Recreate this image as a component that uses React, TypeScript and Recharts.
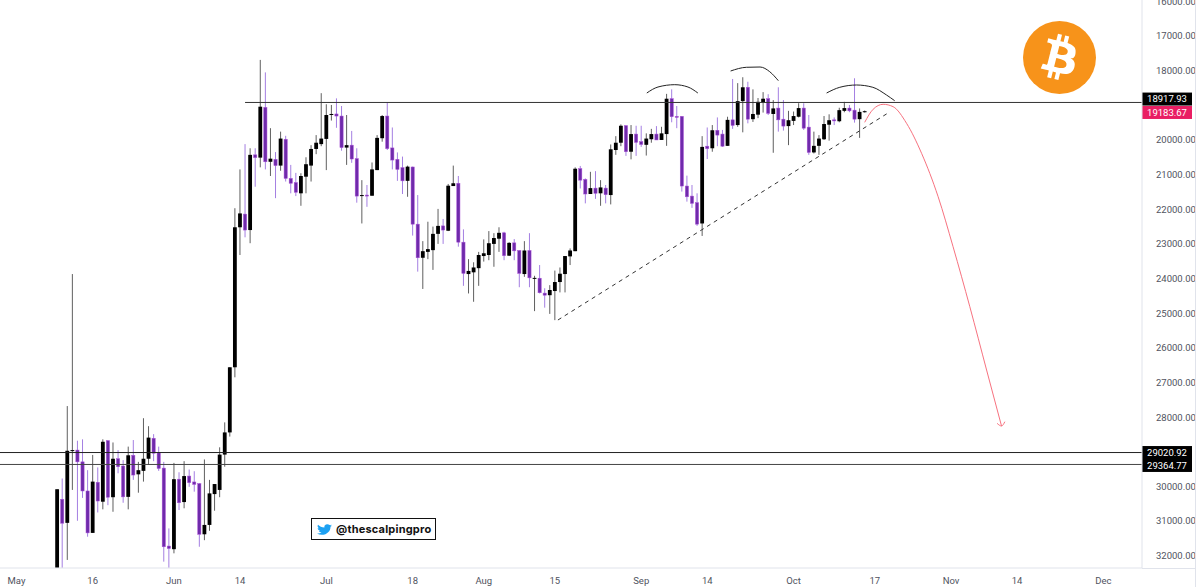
import React from "react";
import { ComposedChart, Bar, Line, XAxis, YAxis, ReferenceLine } from "recharts";

// price scale is flipped on this chart, so "up" on screen means a lower number
const firstDay = 8; // days since May 1

const wickTop = [
  30080, 29770, 27680, 23870, 28680, 28640, 29530, 29090, 29450, 28640, 28660, 28730, 28950, 29240, 28850, 28660,
  29290, 28030, 28260, 28490, 28850, 29290, 31210, 29320, 29590, 29270, 29510, 29560, 29900, 29220, 29810, 29930,
  28870, 28150, 26560, 21970, 20850, 20120, 20240, 20240, 17690, 18050, 19660, 20350, 19760, 19880, 20720, 20950,
  20960, 20500, 20150, 19860, 18650, 18970, 18990, 18800, 19020, 19280, 19740, 20240, 21160, 21300, 20650, 19860,
  19280, 18920, 19640, 20360, 20480, 20740, 20770, 21590, 22920, 22360, 22500, 21990, 22280, 21270, 20740, 21040,
  22580, 23440, 23530, 23230, 22870, 22630, 22690, 22520, 22650, 22950, 22860, 23180, 22920, 22690, 23920, 23610,
  24280, 24190, 23770, 23680, 23350, 23130, 20790, 20750, 21110, 20920, 20900, 21160, 21300, 20130, 19890, 19550,
  19570, 19570, 19590, 19590, 19810, 19680, 19600, 19620, 18670, 18540, 19020, 19310, 21030, 21300, 21540, 19890,
  19640, 19570, 19350, 19710, 19330, 18240, 18360, 18190, 18320, 18540, 18790, 18620, 18680, 18850, 18480, 18850,
  19160, 19180, 18940, 18940, 19280, 19760, 19860, 19310, 19260, 19350, 19070, 18900, 18990, 18220, 19090, 19150,
];
const opens = [
  32350, 30370, 31050, 28980, 28950, 29290, 30130, 31340, 29880, 30440, 28680, 30310, 29200, 29410, 30300, 29100,
  29650, 29550, 29200, 28610, 29030, 29470, 31720, 31810, 29790, 30450, 29700, 29870, 29920, 31380, 31110, 30220,
  30100, 29080, 28440, 26560, 22520, 22140, 22600, 20430, 20510, 19060, 20630, 20560, 20740, 19980, 21110, 21230,
  21540, 21060, 20740, 20260, 20120, 19970, 19280, 19250, 19310, 20220, 20150, 20540, 21620, 21590, 21610, 20870,
  19950, 19310, 20230, 20560, 20800, 21180, 20780, 22430, 23400, 23230, 23180, 22710, 22480, 22620, 21330, 21250,
  22950, 23870, 23820, 23700, 23350, 23320, 23000, 22850, 22680, 23340, 22970, 23190, 23870, 23190, 24000, 23990,
  24420, 24480, 24360, 24100, 23870, 23360, 23210, 20830, 21140, 21560, 21390, 21540, 21390, 21590, 20290, 20080,
  19590, 20340, 19830, 20050, 20140, 19980, 19830, 20000, 19830, 18810, 19320, 19320, 21330, 21620, 21810, 22410,
  20180, 20240, 19720, 19830, 20170, 19420, 19570, 18880, 18480, 19400, 19270, 18910, 18810, 19250, 19080, 19400,
  19600, 19450, 19330, 19080, 19630, 20360, 20170, 19980, 19560, 19420, 19460, 19160, 19080, 19140, 19400, 19200,
];
const closes = [
  30080, 31060, 28970, 28950, 29290, 30130, 31340, 29860, 30420, 28710, 30310, 29200, 29430, 30300, 29100, 29670,
  29530, 29200, 28590, 29040, 29480, 31740, 31790, 29790, 30470, 29700, 29890, 29940, 31380, 31110, 30200, 29930,
  29080, 28440, 26560, 22520, 22120, 22600, 20430, 20510, 19040, 20630, 20540, 20740, 19960, 21110, 21250, 21510,
  21040, 20700, 20260, 20080, 19960, 19280, 19250, 19310, 20220, 20150, 20550, 21620, 21590, 21620, 20850, 19940,
  19310, 20250, 20580, 20850, 21180, 20770, 22430, 23400, 23210, 23150, 22710, 22480, 22600, 21320, 21250, 22950,
  23850, 23780, 23680, 23320, 23270, 22980, 22830, 22680, 23340, 22970, 23200, 23850, 23190, 23980, 23980, 24410,
  24480, 24330, 24100, 23860, 23350, 23190, 20830, 21160, 21560, 21390, 21540, 21370, 21580, 20270, 20080, 19590,
  20340, 19830, 20070, 20130, 19960, 19830, 20000, 19810, 18810, 19330, 19340, 21330, 21640, 21830, 22430, 20200,
  20250, 19720, 19860, 20180, 19420, 19580, 18880, 18480, 19400, 19250, 18900, 18810, 19230, 19090, 19420, 19600,
  19430, 19310, 19080, 19660, 20360, 20170, 19960, 19540, 19430, 19450, 19140, 19080, 19160, 19400, 19190, 19170,
];
const wickBottom = [
  32350, 32350, 32120, 30100, 30990, 30330, 31450, 31340, 30750, 30660, 30540, 30730, 29620, 30470, 30660, 29810,
  30180, 29860, 29380, 29270, 29550, 32170, 32350, 31930, 30680, 30630, 30010, 30150, 31740, 31550, 31280, 30700,
  30310, 29430, 28560, 26850, 23320, 22810, 22980, 21350, 20790, 20850, 21040, 21680, 20890, 21200, 21540, 21620,
  21900, 21540, 21200, 20410, 20180, 20870, 19440, 19650, 20310, 20720, 20660, 21810, 22410, 21930, 21610, 20870,
  20050, 20290, 20850, 21180, 21560, 21640, 22760, 23800, 24300, 23440, 23750, 23000, 23000, 22630, 21330, 23080,
  24210, 24430, 24670, 24210, 23510, 23470, 23660, 23230, 23470, 23350, 23470, 24250, 23950, 24250, 24940, 24430,
  24840, 25020, 25200, 24400, 24400, 23610, 23210, 21400, 21830, 21560, 21700, 21900, 21830, 21860, 20430, 20180,
  20460, 20560, 20460, 20200, 20450, 20080, 20000, 20000, 20170, 19490, 19660, 21490, 21780, 21960, 22480, 22770,
  20550, 20340, 20180, 20200, 20170, 19680, 19620, 19780, 19520, 19480, 19370, 19210, 19280, 20370, 19760, 19730,
  20150, 19570, 19350, 19710, 20430, 20390, 20430, 20000, 20020, 19570, 19490, 19200, 19200, 19500, 19940, 19210,
];

const candles = wickTop.map((top, i) => ({
  day: firstDay + i,
  top,
  open: opens[i],
  close: closes[i],
  bottom: wickBottom[i],
}));

// 19000 and 29000 sit behind the price tags in the reference
const priceTicks = [
  16000, 17000, 18000, 20000, 21000, 22000, 23000, 24000, 25000, 26000, 27000, 28000, 30000, 31000, 32000,
];
const dayTicks = [0, 15, 31, 44, 61, 78, 92, 106, 123, 136, 153, 169, 184, 197, 214];
const dayLabels = ["May", "16", "Jun", "14", "Jul", "18", "Aug", "15", "Sep", "14", "Oct", "17", "Nov", "14", "Dec"];

const resistance = 18917.93;
const lastPrice = 19183.67;
const supportA = 29020.92;
const supportB = 29364.77;

const trendLine = [
  { day: 106.6, price: 25196 },
  { day: 171.6, price: 19222 },
];
const arcOne = [
  { day: 124.1, price: 18645 },
  { day: 126.3, price: 18472 },
  { day: 129.6, price: 18405 },
  { day: 132.2, price: 18472 },
  { day: 134.15, price: 18645 },
];
const arcTwo = [
  { day: 140.6, price: 18010 },
  { day: 143.7, price: 17903 },
  { day: 146.4, price: 17895 },
  { day: 148.3, price: 18030 },
  { day: 150, price: 18290 },
];
const arcThree = [
  { day: 159.5, price: 18645 },
  { day: 162.1, price: 18480 },
  { day: 165.4, price: 18414 },
  { day: 168.6, price: 18480 },
  { day: 171.3, price: 18703 },
  { day: 172.9, price: 18867 },
];
const forecast = [
  { day: 167.0, price: 19491 },
  { day: 168.66, price: 19115 },
  { day: 170.63, price: 18971 },
  { day: 172.6, price: 19040 },
  { day: 175.24, price: 19519 },
  { day: 178.2, price: 20385 },
  { day: 181.46, price: 21638 },
  { day: 184.4, price: 23081 },
  { day: 187.7, price: 24812 },
  { day: 191.0, price: 26639 },
  { day: 193.94, price: 28255 },
];
const arrowHead = [
  { day: 193.07, price: 28178 },
  { day: 193.94, price: 28255 },
  { day: 194.6, price: 28131 },
];

const AXIS_FONT = "Roboto, sans-serif";

function Candle(props: any) {
  const { x, y, width, height, payload } = props;
  const h = Math.abs(height);
  if (!h) return null;
  const top = Math.min(y, y + height);
  const cx = x + width / 2;
  const perUnit = h / (payload.bottom - payload.top);
  const toY = (v: number) => top + (v - payload.top) * perUnit;
  const isBlack = payload.close < payload.open;
  const bodyTop = toY(Math.min(payload.open, payload.close));
  const bodyH = Math.max(Math.abs(payload.close - payload.open) * perUnit, 1);
  return (
    <g>
      <line x1={cx} x2={cx} y1={top} y2={top + h} stroke={isBlack ? "#5f5f5f" : "#a47fe2"} strokeWidth={1} />
      <rect
        x={cx - (isBlack ? 1.9 : 1.6)}
        y={bodyTop}
        width={isBlack ? 3.8 : 3.2}
        height={bodyH}
        fill={isBlack ? "#000000" : "#6f2bab"}
        stroke={isBlack ? "none" : "#a94fd6"}
        strokeWidth={0.5}
      />
    </g>
  );
}

// tags get nudged off their line so neighbours don't cover each other
function PriceTag(props: any) {
  const { viewBox, text, fill, nudge = 0 } = props;
  const px = viewBox.x + viewBox.width;
  const cy = viewBox.y + nudge;
  return (
    <g>
      <rect x={px} y={cy - 6.5} width={50} height={13} fill={fill} />
      <text x={px + 25} y={cy + 3.4} textAnchor="middle" fontSize={9.5} fontFamily={AXIS_FONT} fill="#ffffff">
        {text}
      </text>
    </g>
  );
}

function overlayLine(data: any[], key: string, color: string, dash?: string) {
  return (
    <Line
      key={key}
      data={data}
      dataKey="price"
      type="monotone"
      stroke={color}
      strokeWidth={1}
      strokeDasharray={dash}
      dot={false}
      activeDot={false}
      isAnimationActive={false}
    />
  );
}

export default function App() {
  return (
    <div style={{ position: "absolute", left: 0, top: 0, width: 1200, height: 587, background: "#fff", overflow: "hidden" }}>
      <ComposedChart
        width={1195}
        height={587}
        data={candles}
        margin={{ top: 0, right: 0, bottom: 0, left: 0 }}
      >
        <XAxis
          dataKey="day"
          type="number"
          domain={[-3.25, 221.6]}
          allowDataOverflow
          ticks={dayTicks}
          interval={0}
          tickFormatter={(d: number) => dayLabels[dayTicks.indexOf(d)]}
          height={19}
          tickLine={false}
          tickMargin={3}
          axisLine={{ stroke: "#e0e3eb" }}
          tick={{ fontSize: 9.5, fontFamily: AXIS_FONT, fill: "#50535e" }}
        />
        <YAxis
          orientation="right"
          reversed
          type="number"
          domain={[15961, 32353]}
          allowDataOverflow
          ticks={priceTicks}
          interval={0}
          width={53}
          tickLine={false}
          tickMargin={8}
          tickFormatter={(v: number) => v.toFixed(2)}
          axisLine={{ stroke: "#e0e3eb" }}
          tick={{ fontSize: 9.5, fontFamily: AXIS_FONT, fill: "#50535e" }}
        />
        <Bar
          dataKey={(d: any) => [d.top, d.bottom]}
          barSize={5}
          shape={<Candle />}
          isAnimationActive={false}
        />
        <ReferenceLine
          segment={[
            { x: 45, y: resistance },
            { x: 221.6, y: resistance },
          ]}
          stroke="#333"
          strokeWidth={1}
        />
        <ReferenceLine y={supportA} stroke="#222" strokeWidth={1} label={<PriceTag text={supportA.toFixed(2)} fill="#000" />} />
        <ReferenceLine y={supportB} stroke="#444" strokeWidth={1} label={<PriceTag text={supportB.toFixed(2)} fill="#000" nudge={1} />} />
        <ReferenceLine y={lastPrice} stroke="none" label={<PriceTag text={lastPrice.toFixed(2)} fill="#e91e63" nudge={0.8} />} />
        <ReferenceLine y={resistance} stroke="none" label={<PriceTag text={resistance.toFixed(2)} fill="#000" nudge={-3.4} />} />
        {overlayLine(trendLine, "trend", "#333", "4 4")}
        {overlayLine(arcOne, "arc1", "#222")}
        {overlayLine(arcTwo, "arc2", "#222")}
        {overlayLine(arcThree, "arc3", "#222")}
        {overlayLine(forecast, "forecast", "#f7727f")}
        {overlayLine(arrowHead, "arrow", "#f7727f")}
      </ComposedChart>

      {/* right edge of the price panel and bottom rule under it */}
      <div style={{ position: "absolute", left: 1195, top: 0, width: 1, height: 587, background: "#e0e3eb" }} />
      <div style={{ position: "absolute", left: 1142, top: 568, width: 53, height: 1, background: "#e0e3eb" }} />

      {/* bitcoin logo */}
      <svg style={{ position: "absolute", left: 1022.5, top: 21 }} width={73} height={73} viewBox="0 0 64 64">
        <circle cx={32} cy={32} r={32} fill="#f7931a" />
        <path
          fill="#fff"
          d="M46.103,27.444c0.637-4.258-2.605-6.547-7.038-8.074l1.438-5.768l-3.511-0.875l-1.4,5.616c-0.923-0.23-1.871-0.447-2.813-0.662l1.41-5.653l-3.509-0.875l-1.439,5.766c-0.764-0.174-1.514-0.346-2.242-0.527l0.004-0.018l-4.842-1.209l-0.934,3.75c0,0,2.605,0.597,2.55,0.634c1.422,0.355,1.679,1.296,1.636,2.042l-1.638,6.571c0.098,0.025,0.225,0.061,0.365,0.117c-0.117-0.029-0.242-0.061-0.371-0.092l-2.296,9.205c-0.174,0.432-0.615,1.08-1.609,0.834c0.035,0.051-2.552-0.637-2.552-0.637l-1.743,4.019l4.569,1.139c0.85,0.213,1.683,0.436,2.503,0.646l-1.453,5.834l3.507,0.875l1.439-5.772c0.958,0.26,1.888,0.5,2.798,0.726l-1.434,5.745l3.511,0.875l1.453-5.823c5.987,1.133,10.489,0.676,12.384-4.739c1.527-4.36-0.076-6.875-3.226-8.515C44.17,33.208,45.904,31.696,46.103,27.444z M38.08,38.693c-1.085,4.36-8.426,2.003-10.806,1.412l1.928-7.729C31.582,32.97,39.215,34.145,38.08,38.693z M39.166,27.381c-0.99,3.966-7.1,1.951-9.082,1.457l1.748-7.01C33.814,22.322,40.198,23.244,39.166,27.381z"
        />
      </svg>

      {/* twitter handle */}
      <div
        style={{
          position: "absolute",
          left: 311,
          top: 518,
          width: 125,
          height: 22,
          boxSizing: "border-box",
          border: "1.5px solid #111",
          background: "#fff",
          display: "flex",
          alignItems: "center",
          paddingLeft: 5,
          gap: 4,
        }}
      >
        <svg width={15} height={13} viewBox="0 0 24 24" preserveAspectRatio="none">
          <path
            fill="#1da1f2"
            d="M23.953 4.57a10 10 0 01-2.825.775 4.958 4.958 0 002.163-2.723c-.951.555-2.005.959-3.127 1.184a4.92 4.92 0 00-8.384 4.482C7.69 8.095 4.067 6.13 1.64 3.162a4.822 4.822 0 00-.666 2.475c0 1.71.87 3.213 2.188 4.096a4.904 4.904 0 01-2.228-.616v.06a4.923 4.923 0 003.946 4.827 4.996 4.996 0 01-2.212.085 4.936 4.936 0 004.604 3.417 9.867 9.867 0 01-6.102 2.105c-.39 0-.779-.023-1.17-.067a13.995 13.995 0 007.557 2.209c9.053 0 13.998-7.496 13.998-13.985 0-.21 0-.42-.015-.63A9.935 9.935 0 0024 4.59z"
          />
        </svg>
        <span style={{ fontFamily: "Inter, sans-serif", fontWeight: 700, fontSize: 11, letterSpacing: 0.2, color: "#111", whiteSpace: "nowrap" }}>
          @thescalpingpro
        </span>
      </div>
    </div>
  );
}
